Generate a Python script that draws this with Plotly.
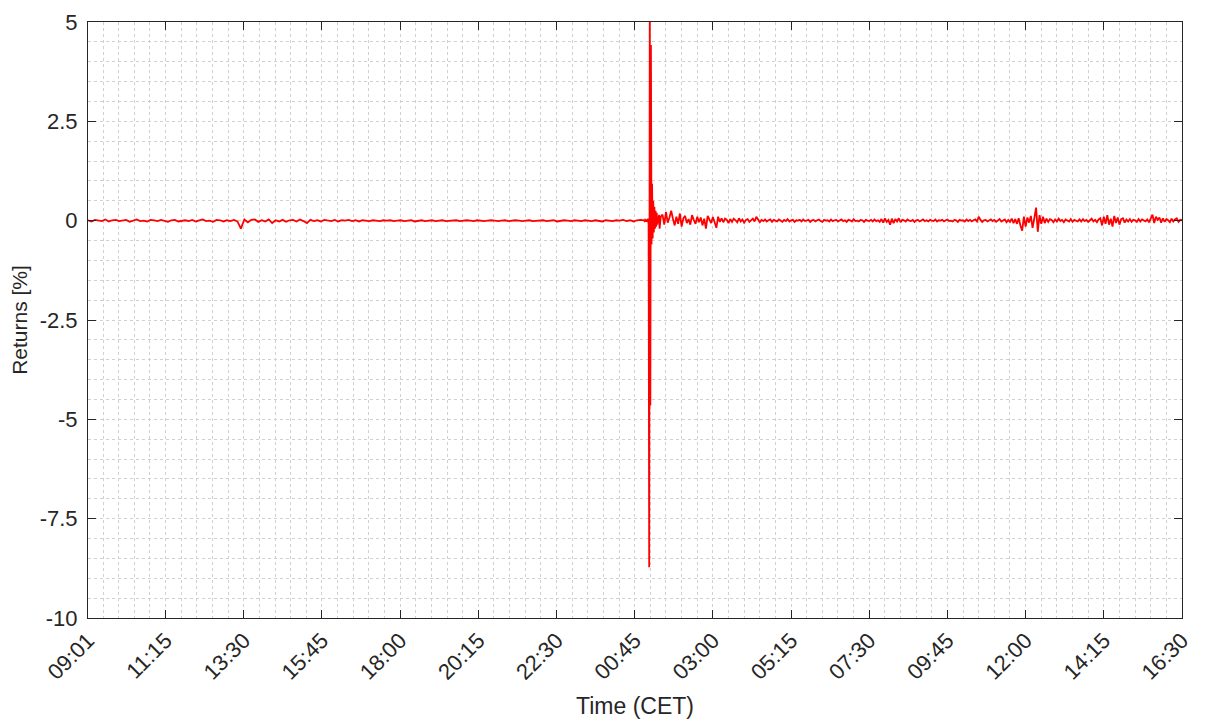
import pandas as pd
import plotly.graph_objects as go

# ---- data (returns in %) ----
# day 1: 6-minute samples from 09:01 (160 values)
day1_start = "2016-10-06 09:01"
day1_returns = [
    0.01, -0.02, 0.02, 0.00, -0.01, 0.03, -0.02, 0.01, 0.02, -0.01,
    0.00, 0.02, -0.03, 0.01, 0.03, -0.01, 0.00, -0.02, 0.02, 0.01,
    -0.01, 0.02, 0.00, -0.03, 0.01, 0.02, -0.02, 0.00, 0.01, -0.01,
    0.02, -0.02, 0.01, 0.03, -0.01, 0.00, -0.03, 0.02, 0.01, -0.02,
    0.01, -0.01, 0.02, -0.02, -0.20, 0.03, -0.04, 0.02, 0.03, -0.03,
    0.01, -0.02, 0.03, -0.06, 0.01, -0.02, 0.02, -0.03, 0.01, 0.02,
    -0.02, 0.03, -0.01, -0.06, 0.02, -0.01, 0.01, -0.02, 0.02, 0.00,
    -0.01, 0.02, -0.02, 0.01, 0.00, 0.02, -0.01, 0.01, -0.02, 0.01,
    0.00, -0.01, 0.01, 0.00, -0.01, 0.01, 0.00, 0.01, -0.01, 0.00,
    0.01, -0.01, 0.00, 0.01, -0.02, 0.00, 0.01, -0.01, 0.00, 0.01,
    -0.01, 0.00, 0.01, -0.01, 0.00, 0.00, 0.01, -0.01, 0.00, 0.01,
    0.00, -0.01, 0.01, 0.00, -0.01, 0.00, 0.01, 0.00, -0.01, 0.00,
    0.01, -0.01, 0.00, 0.01, 0.00, -0.01, 0.00, 0.01, -0.01, 0.00,
    0.00, 0.01, -0.01, 0.00, 0.01, -0.02, 0.00, 0.01, 0.00, -0.01,
    0.01, 0.00, -0.01, 0.01, 0.00, -0.01, 0.01, 0.00, -0.02, 0.01,
    0.00, -0.01, 0.01, 0.00, 0.02, -0.01, 0.01, -0.02, 0.01, 0.02,
]
# flash crash: 1-minute samples from 01:01 (30 values)
crash_start = "2016-10-07 01:01"
crash_returns = [
    0.01, -0.01, 0.02, 0.00, -0.02, 0.03, -0.03, 0.05, -0.10, -8.72,
    5.60, -4.65, 4.42, -0.60, 0.93, -0.45, 0.50, -0.30, 0.35, -0.20,
    0.25, -0.15, 0.20, -0.10, 0.10, -0.05, 0.15, -0.20, 0.05, 0.10,
]
# day 2: 3-minute samples from 01:33 to 16:30 (300 values)
day2_start = "2016-10-07 01:33"
day2_returns = [
    0.15, -0.10, 0.22, -0.05, 0.08, 0.25, 0.05, -0.12, 0.10, -0.08, 0.18, -0.15, 0.06, 0.12, -0.06, 0.04, -0.10, 0.14, 0.02, -0.08,
    0.10, -0.04, 0.08, -0.12, 0.05, -0.20, 0.12, 0.03, -0.06, 0.09, -0.05, -0.18, 0.10, -0.03, 0.06, -0.04, 0.05, 0.02, -0.06, 0.04,
    -0.03, 0.05, 0.01, -0.04, 0.06, -0.02, 0.03, -0.05, 0.02, 0.04, -0.03, 0.02, 0.05, -0.02, 0.10, 0.03, -0.04, 0.02, -0.01, 0.03,
    -0.02, 0.01, 0.03, -0.03, 0.02, 0.00, -0.02, 0.03, 0.01, -0.03, 0.02, -0.01, 0.04, -0.02, 0.01, 0.02, -0.03, 0.01, 0.00, 0.02,
    -0.02, 0.03, -0.01, 0.00, 0.02, -0.03, 0.01, 0.02, -0.02, 0.01, 0.03, -0.01, -0.03, 0.02, 0.00, 0.01, -0.02, 0.03, -0.01, 0.01,
    0.02, -0.02, 0.00, 0.03, -0.01, 0.01, -0.03, 0.02, 0.01, -0.02, 0.04, -0.01, 0.00, -0.02, 0.02, 0.01, -0.03, 0.02, 0.00, -0.01,
    0.02, -0.02, 0.03, -0.01, 0.01, -0.03, 0.04, -0.05, 0.06, -0.03, 0.02, -0.10, 0.05, -0.06, 0.04, -0.02, 0.06, -0.04, 0.02, 0.01,
    -0.02, 0.03, 0.00, -0.01, 0.02, -0.03, 0.01, 0.02, -0.02, 0.00, 0.03, -0.01, 0.01, -0.02, 0.02, 0.00, -0.01, 0.03, -0.02, 0.01,
    0.00, 0.02, -0.02, 0.01, 0.03, -0.01, 0.00, -0.02, 0.02, 0.01, -0.03, 0.02, 0.00, 0.01, -0.02, 0.03, -0.01, 0.02, -0.02, 0.01,
    0.03, -0.02, 0.10, 0.02, -0.03, 0.01, 0.02, -0.02, 0.00, 0.03, -0.01, 0.02, -0.03, 0.01, 0.04, -0.02, 0.01, 0.03, -0.04, 0.02,
    -0.03, 0.05, -0.06, 0.04, -0.08, 0.06, -0.12, -0.25, 0.10, -0.15, 0.08, -0.05, 0.12, -0.18, 0.06, 0.33, -0.28, 0.14, -0.08, 0.10,
    -0.06, 0.05, -0.03, 0.04, 0.02, -0.04, 0.03, -0.02, 0.05, -0.01, 0.02, -0.04, 0.03, 0.01, -0.02, 0.04, -0.03, 0.02, 0.00, -0.02,
    0.03, -0.02, 0.04, -0.01, 0.02, -0.03, 0.01, 0.05, -0.02, 0.02, -0.04, 0.03, 0.06, -0.12, 0.10, -0.08, 0.14, -0.10, 0.05, -0.15,
    0.12, -0.06, 0.08, -0.10, 0.04, 0.06, -0.05, 0.03, -0.02, 0.04, -0.03, 0.02, 0.01, -0.03, 0.04, -0.02, 0.03, 0.00, -0.02, 0.03,
    -0.04, 0.05, 0.15, -0.06, 0.10, 0.02, 0.08, -0.05, 0.06, -0.03, 0.04, 0.01, -0.04, 0.05, -0.02, 0.03, 0.06, -0.03, 0.02, 0.01,
]

tick_times = [
    "2016-10-06 09:01", "2016-10-06 11:15", "2016-10-06 13:30", "2016-10-06 15:45",
    "2016-10-06 18:00", "2016-10-06 20:15", "2016-10-06 22:30", "2016-10-07 00:45",
    "2016-10-07 03:00", "2016-10-07 05:15", "2016-10-07 07:30", "2016-10-07 09:45",
    "2016-10-07 12:00", "2016-10-07 14:15", "2016-10-07 16:30",
]
tick_labels = ["09:01", "11:15", "13:30", "15:45", "18:00", "20:15", "22:30", "00:45",
               "03:00", "05:15", "07:30", "09:45", "12:00", "14:15", "16:30"]
y_ticks = [-10, -7.5, -5, -2.5, 0, 2.5, 5]
y_labels = ["-10", "-7.5", "-5", "-2.5", "0", "2.5", "5"]

# ---- build time index ----
t1 = pd.date_range(day1_start, periods=len(day1_returns), freq="6min")
tc = pd.date_range(crash_start, periods=len(crash_returns), freq="1min")
t2 = pd.date_range(day2_start, periods=len(day2_returns), freq="3min")
times = list(t1) + list(tc) + list(t2)
values = day1_returns + crash_returns + day2_returns

FONT = "Liberation Sans, Arial, Helvetica, sans-serif"
AX = "#262626"
GRID = "#d0d0d0"

fig = go.Figure()
fig.add_trace(go.Scatter(x=times, y=values, mode="lines",
                         line=dict(color="#ff0000", width=1.8), showlegend=False))

fig.update_layout(
    width=1205, height=720,
    margin=dict(l=80, r=31, t=14, b=110),
    paper_bgcolor="white", plot_bgcolor="white",
    font=dict(family=FONT, size=22, color=AX),
)
fig.update_xaxes(
    type="date", automargin=False,
    range=["2016-10-06 09:01", "2016-10-07 16:30"],
    tickmode="array", tickvals=tick_times, ticktext=tick_labels,
    tickangle=-45, tickfont=dict(size=22, color=AX),
    ticks="inside", ticklen=8, tickcolor=AX,
    showline=True, linecolor=AX, linewidth=1, mirror="ticks",
    showgrid=True, gridcolor=GRID, griddash="dot", gridwidth=1,
    minor=dict(tick0="2016-10-06 09:00", dtick=27 * 60 * 1000, showgrid=True,
               gridcolor=GRID, griddash="dot", gridwidth=1, ticks=""),
    zeroline=False,
    title=dict(text="Time (CET)", font=dict(size=23, color=AX), standoff=14),
)
fig.update_yaxes(
    automargin=False,
    range=[-10, 5],
    tickmode="array", tickvals=y_ticks, ticktext=y_labels,
    tickfont=dict(size=22, color=AX), ticklabelstandoff=5,
    ticks="inside", ticklen=8, tickcolor=AX,
    showline=True, linecolor=AX, linewidth=1, mirror="ticks",
    showgrid=True, gridcolor=GRID, griddash="dot", gridwidth=1,
    minor=dict(tick0=0, dtick=0.5, showgrid=True,
               gridcolor=GRID, griddash="dot", gridwidth=1, ticks=""),
    zeroline=False,
    title=dict(text="Returns [%]", font=dict(size=21, color=AX), standoff=8),
)

fig.write_html("out.html")
